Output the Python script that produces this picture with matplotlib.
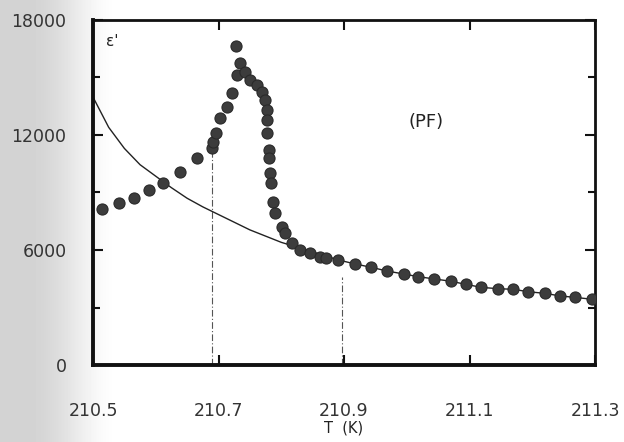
import numpy as np
import matplotlib
matplotlib.use("Agg")
import matplotlib.pyplot as plt

# eps' data (T in K)
t_rise = [210.514, 210.542, 210.565, 210.590, 210.612, 210.639, 210.665,
          210.689, 210.692, 210.696, 210.702, 210.713, 210.721]
e_rise = [8120, 8440, 8730, 9130, 9480, 10090, 10780,
          11300, 11650, 12090, 12870, 13480, 14180]

t_peak = [210.728, 210.729, 210.735, 210.742, 210.750, 210.761, 210.769,
          210.774, 210.777, 210.777, 210.778, 210.780, 210.780, 210.782,
          210.783, 210.787, 210.790, 210.801, 210.806, 210.817, 210.830,
          210.846, 210.862, 210.872]
e_peak = [16640, 15130, 15740, 15300, 14870, 14610, 14260,
          13830, 13300, 12780, 12090, 11220, 10780, 10000,
          9480, 8520, 7920, 7220, 6870, 6350, 6000,
          5830, 5650, 5570]

t_tail = [210.891, 210.918, 210.943, 210.969, 210.995, 211.018, 211.044,
          211.070, 211.094, 211.119, 211.146, 211.170, 211.194, 211.220,
          211.245, 211.268, 211.295]
e_tail = [5480, 5270, 5100, 4900, 4750, 4610, 4490,
          4370, 4210, 4050, 3980, 3950, 3820, 3740,
          3600, 3530, 3430]

# solid curve (Curie-Weiss like) as drawn
t_fit = [210.50, 210.525, 210.55, 210.575, 210.60, 210.625, 210.65, 210.675,
         210.70, 210.75, 210.80, 210.85, 210.891]
e_fit = [13980, 12400, 11300, 10450, 9850, 9250, 8700, 8250,
         7850, 7050, 6400, 5900, 5480]

t_marks = [210.69, 210.897]
mark_tops = [12000, 4600]

x_ticks = [210.5, 210.7, 210.9, 211.1, 211.3]
y_ticks = [0, 6000, 12000, 18000]

fig = plt.figure(figsize=(6.24, 4.42), dpi=100)

# scanner shadow on the left side
bg = fig.add_axes([0, 0, 1, 1], zorder=-10)
xs = np.linspace(0, 624, 624)
shade = np.clip((xs - 30) / 90, 0, 1)
grey = 0.83 + 0.17 * (3 * shade ** 2 - 2 * shade ** 3)
bg.imshow(np.tile(grey, (10, 1)), cmap='gray', vmin=0, vmax=1,
          aspect='auto', extent=[0, 1, 0, 1])
bg.axis('off')

ax = fig.add_axes([93 / 624, 1 - 365 / 442, 502 / 624, 345 / 442])
ax.patch.set_alpha(0)

dot = dict(marker='o', ms=8, mfc='#3c3c3c', mec='#2a2a2a', mew=0.8)
ax.plot(t_fit, e_fit, '-', color='#222222', lw=1.0, zorder=2)
ax.plot(t_rise, e_rise, ls='none', zorder=3, **dot)
ax.plot(t_peak, e_peak, ls='none', zorder=3, **dot)
ax.plot(t_tail, e_tail, '-', color='#222222', lw=1.0, zorder=3, **dot)

for t, top in zip(t_marks, mark_tops):
    ax.plot([t, t], [0, top], color='#555555', lw=0.8,
            ls=(0, (6, 2, 1, 2)), zorder=1)

ax.set_xlim(210.5, 211.3)
ax.set_ylim(0, 18000)

ax.set_xticks(x_ticks)
ax.set_yticks(y_ticks)
ax.set_yticks([3000, 9000, 15000], minor=True)
ax.tick_params(axis='both', which='both', direction='in', top=True,
               right=True, width=1.5, color='#111111')
ax.tick_params(axis='y', which='major', length=7, pad=19)
ax.tick_params(axis='y', which='minor', length=5)
ax.tick_params(axis='x', which='major', length=7, pad=27)
ax.set_xticklabels(['210.5', '210.7', '210.9', '211.1', '211.3'],
                   fontsize=12.5, color='#333333')
ax.set_yticklabels(['0', '6000', '12000', '18000'],
                   fontsize=12.5, color='#333333')
ax.set_xlabel('T  (K)', fontsize=10.5, labelpad=0, color='#222222')

for side, lw in [('left', 2.8), ('bottom', 2.8), ('top', 2.0), ('right', 2.0)]:
    ax.spines[side].set_linewidth(lw)
    ax.spines[side].set_color('#111111')

ax.text(210.53, 16900, "\u03b5'", fontsize=11, color='#222222',
        ha='center', va='center')
ax.text(211.03, 12700, '(PF)', fontsize=13, color='#222222',
        ha='center', va='center')

fig.savefig('out.png', dpi=100)
